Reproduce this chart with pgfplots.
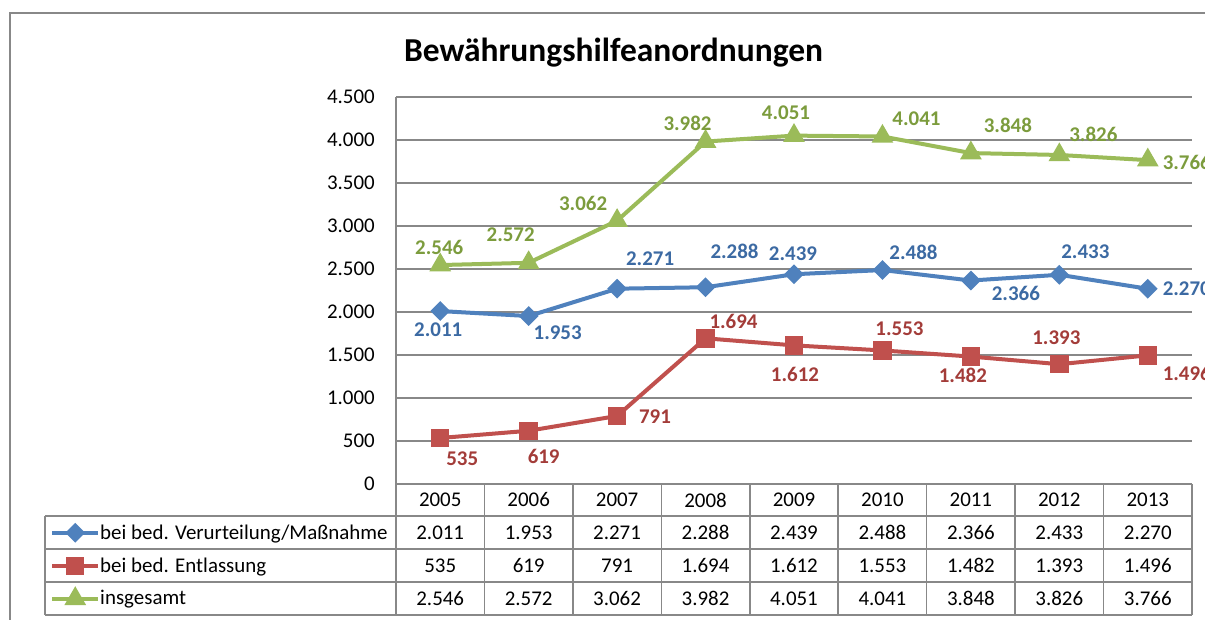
\documentclass[border=0pt]{standalone}
\usepackage{pgfplots}
\pgfplotsset{compat=1.18}
\usepackage{fontspec}
\setmainfont{Carlito}
\definecolor{cblue}{HTML}{4F81BD}
\definecolor{cred}{HTML}{C0504D}
\definecolor{cgreen}{HTML}{9BBB59}
\definecolor{lblue}{HTML}{3C6AA3}
\definecolor{lred}{HTML}{A33C39}
\definecolor{lgreen}{HTML}{7C9C3D}
\definecolor{gridc}{HTML}{888888}

\newcommand{\tf}{\fontsize{15.7}{18}\selectfont}

\pgfplotsset{
  labelled/.style={forget plot,
    point meta=explicit symbolic,
    nodes near coords,
    visualization depends on={value \thisrow{anc}\as\anc},
    visualization depends on={\thisrow{dx}\as\dx},
    visualization depends on={\thisrow{dy}\as\dy},
    every node near coord/.append style={anchor=\anc, inner sep=0pt,
       xshift=\dx*0.75pt, yshift=\dy*0.75pt,
       font=\bfseries\fontsize{15.7}{18}\selectfont, text=#1}},
}

\begin{document}
\begin{tikzpicture}[x=0.75pt,y=0.75pt]
\useasboundingbox (0,0) rectangle (1205,619);
\clip (0,0) rectangle (1205,619);
\fill[white] (0,0) rectangle (1205,619);
% outer frame
\draw[gridc, line width=1.1pt] (10,-5) -- (10,606) -- (1215,606);
% title
\node[anchor=base, font=\bfseries\fontsize{25.1}{30}\selectfont] at (613.5,557) {Bewährungshilfeanordnungen};

\begin{axis}[
  at={(297pt,101.25pt)}, anchor=south west, scale only axis,
  width=597pt, height=290.25pt,
  xmin=-0.5, xmax=8.5, ymin=0, ymax=4500,
  axis lines*=left,
  axis line style={gridc, line width=1.1pt},
  xtick=\empty,
  ytick={0,500,1000,1500,2000,2500,3000,3500,4000,4500},
  yticklabels={0,500,1.000,1.500,2.000,2.500,3.000,3.500,4.000,4.500},
  yticklabel style={font=\tf, inner sep=0pt, anchor=east, xshift=-15.75pt},
  major tick length=0pt,
  ymajorgrids, grid style={gridc, line width=1.1pt},
  clip=false,
  legend style={at={(-0.4347,-0.0827)}, anchor=north west, draw=none, fill=none,
     inner sep=0pt, row sep=0pt, column sep=0pt,
     nodes={inner sep=0pt, font=\tf, minimum height=24.75pt}},
  legend cell align=left,
  legend image code/.code={\draw[mark repeat=2,mark phase=2] plot coordinates {(0pt,0pt) (17.25pt,0pt) (34.5pt,0pt)};},
]
\addlegendimage{cblue, line width=3pt, mark=square*, mark size=3.75pt, mark options={rotate=45, solid}}
\addlegendentry{bei bed. Verurteilung/Maßnahme}
\addlegendimage{cred, line width=3pt, mark=square*, mark size=5.4pt, mark options={solid}}
\addlegendentry{bei bed. Entlassung}
\addlegendimage{cgreen, line width=3pt, mark=triangle*, mark size=6.4pt, mark options={solid}}
\addlegendentry{insgesamt}

\addplot[cblue, line width=3pt, mark=square*, mark size=3.75pt,
  mark options={rotate=45, solid}, labelled=lblue]
  table[x=x, y=y, meta=lab] {
x y lab anc dx dy
0 2011 2.011 center -2 -19
1 1953 1.953 center 29 -17
2 2271 2.271 center 33 30
3 2288 2.288 center 29 36
4 2439 2.439 center -1 21
5 2488 2.488 center 31 18
6 2366 2.366 center 45 -13
7 2433 2.433 center 26 23
8 2270 2.270 west 13 0
};
\addplot[cred, line width=3pt, mark=square*, mark size=5.4pt,
  mark options={solid}, labelled=lred]
  table[x=x, y=y, meta=lab] {
x y lab anc dx dy
0 535 535 center 22 -21
1 619 619 center 15 -26
2 791 791 west 20 -1
3 1694 1.694 center 28 17
4 1612 1.612 center 1 -29
5 1553 1.553 center 17 22
6 1482 1.482 center -8 -19
7 1393 1.393 center -3 26
8 1496 1.496 west 13 -18
};
\addplot[cgreen, line width=3pt, mark=triangle*, mark size=6.4pt,
  mark options={solid}, labelled=lgreen]
  table[x=x, y=y, meta=lab] {
x y lab anc dx dy
0 2546 2.546 center -1 18
1 2572 2.572 center -18 28
2 3062 3.062 center -34 17
3 3982 3.982 center -18 18
4 4051 4.051 center -8 23
5 4041 4.041 center 34 18
6 3848 3.848 center 37 28
7 3826 3.826 center 34 21
8 3766 3.766 west 13 -2
};
\end{axis}

% data table grid
\begin{scope}[gridc, line width=1.1pt]
\draw (45,103) -- (1192,103);
\draw (45,70) -- (1192,70);
\draw (45,37) -- (1192,37);
\draw (45,4) -- (1192,4);
\draw (45,103) -- (45,4);
\draw (396,135) -- (396,4);
\foreach \k in {1,...,9} {
  \draw ({396+88.44*\k},135) -- ({396+88.44*\k},4);
}
\end{scope}
% table text
\foreach \t [count=\i from 0] in {2005,2006,2007,2008,2009,2010,2011,2012,2013}
  \node[font=\tf] at ({396+88.44*(\i+0.5)},119) {\t};
\foreach \t [count=\i from 0] in {2.011,1.953,2.271,2.288,2.439,2.488,2.366,2.433,2.270}
  \node[font=\tf] at ({396+88.44*(\i+0.5)},86.5) {\t};
\foreach \t [count=\i from 0] in {535,619,791,1.694,1.612,1.553,1.482,1.393,1.496}
  \node[font=\tf] at ({396+88.44*(\i+0.5)},53.5) {\t};
\foreach \t [count=\i from 0] in {2.546,2.572,3.062,3.982,4.051,4.041,3.848,3.826,3.766}
  \node[font=\tf] at ({396+88.44*(\i+0.5)},20.5) {\t};
\end{tikzpicture}
\end{document}
